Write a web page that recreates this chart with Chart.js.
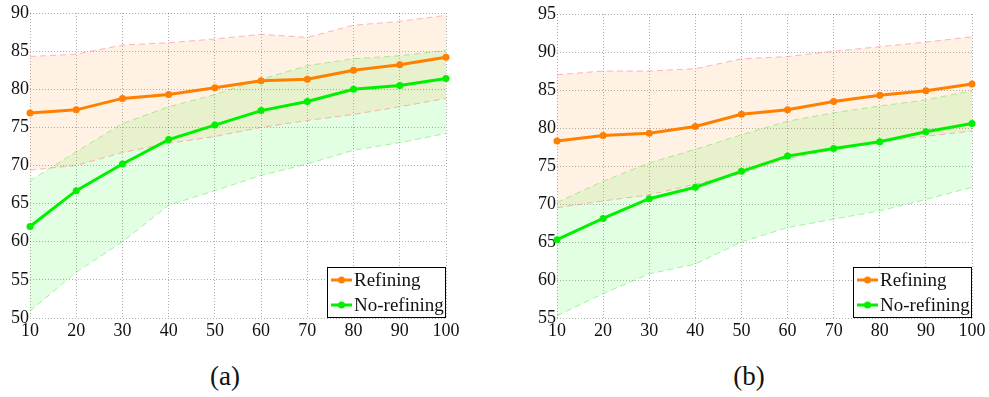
<!DOCTYPE html>
<html>
<head>
<meta charset="utf-8">
<script src="https://cdn.jsdelivr.net/npm/chart.js@4"></script>
<style>
  body { margin: 0; background: #fff; width: 989px; height: 397px; position: relative; overflow: hidden; }
  .panel { position: absolute; top: 0; height: 345px; }
  .caption { position: absolute; top: 361px; width: 80px; text-align: center;
             font-family: 'Liberation Serif', serif; font-size: 27px; color: #111; }
</style>
</head>
<body>
<div class="panel" style="left:0;width:470px"><canvas id="chartA"></canvas></div>
<div class="panel" style="left:527px;width:462px"><canvas id="chartB"></canvas></div>
<div class="caption" style="left:185px">(a)</div>
<div class="caption" style="left:709px">(b)</div>
<script>
// x categories
const xLabels = ['10', '20', '30', '40', '50', '60', '70', '80', '90', '100'];

// (a) values
const refA     = [76.9, 77.3, 78.8, 79.3, 80.2, 81.1, 81.3, 82.5, 83.2, 84.2];
const noRefA   = [62.0, 66.7, 70.2, 73.4, 75.3, 77.2, 78.4, 80.0, 80.5, 81.4];
const refUpA   = [84.3, 84.6, 85.8, 86.1, 86.6, 87.2, 86.8, 88.4, 88.9, 89.7];
const refLoA   = [69.4, 70.0, 71.7, 72.9, 73.8, 75.0, 75.9, 76.7, 77.7, 78.8];
const noRefUpA = [68.0, 71.8, 75.5, 77.7, 79.3, 81.3, 83.1, 84.0, 84.4, 85.1];
const noRefLoA = [50.9, 56.0, 60.0, 64.8, 66.7, 68.7, 70.2, 72.0, 73.0, 74.2];

// (b) values
const refB     = [78.3, 79.0, 79.3, 80.2, 81.8, 82.4, 83.5, 84.3, 84.9, 85.8];
const noRefB   = [65.3, 68.1, 70.7, 72.2, 74.3, 76.3, 77.3, 78.2, 79.5, 80.6];
const refUpB   = [87.0, 87.5, 87.5, 87.8, 89.1, 89.4, 90.1, 90.7, 91.3, 92.0];
const refLoB   = [69.5, 70.4, 71.2, 72.6, 74.0, 76.0, 77.1, 78.2, 78.9, 79.6];
const noRefUpB = [70.2, 73.0, 75.4, 77.2, 79.1, 80.9, 82.0, 82.9, 83.7, 84.9];
const noRefLoB = [55.3, 58.2, 60.8, 62.1, 65.0, 66.9, 68.0, 69.1, 70.6, 72.2];

const seriesNames = ['Refining', 'No-refining'];

const colors = {
    ref: '#ff8000',
    noRef: '#00f000',
    refEdge: 'rgba(255, 120, 140, 0.55)',
    noRefEdge: 'rgba(60, 230, 60, 0.45)',
    refFill: 'rgba(255, 128, 0, 0.11)',
    noRefFill: 'rgba(0, 255, 0, 0.11)',
    grid: 'rgba(0, 0, 0, 0.32)'
};
const serif = "'Liberation Serif', 'Times New Roman', serif";

// legend box drawn inside the plot, bottom right
const boxLegend = {
    id: 'boxLegend',
    afterDraw(chart) {
        const ctx = chart.ctx;
        const area = chart.chartArea;
        const w = 119, h = 51;
        const x0 = area.right - w, y0 = area.bottom - h;
        ctx.save();
        ctx.fillStyle = '#fff';
        ctx.fillRect(x0, y0, w, h);
        ctx.strokeStyle = '#000';
        ctx.lineWidth = 1;
        ctx.strokeRect(x0 + 0.5, y0 + 0.5, w - 1, h - 1);
        ctx.font = '19px ' + serif;
        ctx.textBaseline = 'middle';
        [0, 1].forEach(function(i) {
            const ds = chart.data.datasets[i];
            const cy = y0 + 13 + i * 25;
            ctx.strokeStyle = ds.borderColor;
            ctx.lineWidth = 3;
            ctx.beginPath();
            ctx.moveTo(x0 + 4, cy);
            ctx.lineTo(x0 + 25, cy);
            ctx.stroke();
            ctx.fillStyle = ds.borderColor;
            ctx.beginPath();
            ctx.arc(x0 + 14.5, cy, 3.5, 0, Math.PI * 2);
            ctx.fill();
            ctx.fillStyle = '#111';
            ctx.fillText(ds.label, x0 + 27, cy + 1);
        });
        ctx.restore();
    }
};

function bandEdge(data, color, fill, fillColor) {
    return {
        data: data,
        borderColor: color,
        borderWidth: 1,
        borderDash: [6, 4],
        pointRadius: 0,
        fill: fill,
        backgroundColor: fillColor || 'transparent',
        tension: 0
    };
}

function createPanel(canvasId, ref, noRef, refUp, refLo, noRefUp, noRefLo, yMin, yMax, topPad, rightPad) {
    const ctx = document.getElementById(canvasId);
    if (!ctx) return null;

    return new Chart(ctx, {
        type: 'line',
        data: {
            labels: xLabels,
            datasets: [
                {
                    label: seriesNames[0],
                    data: ref,
                    borderColor: colors.ref,
                    backgroundColor: colors.ref,
                    borderWidth: 3,
                    pointRadius: 3.5,
                    pointBorderWidth: 0,
                    fill: false
                },
                {
                    label: seriesNames[1],
                    data: noRef,
                    borderColor: colors.noRef,
                    backgroundColor: colors.noRef,
                    borderWidth: 3,
                    pointRadius: 3.5,
                    pointBorderWidth: 0,
                    fill: false
                },
                bandEdge(refUp, colors.refEdge, '+1', colors.refFill),
                bandEdge(refLo, colors.refEdge, false),
                bandEdge(noRefUp, colors.noRefEdge, '+1', colors.noRefFill),
                bandEdge(noRefLo, colors.noRefEdge, false)
            ]
        },
        options: {
            responsive: true,
            maintainAspectRatio: false,
            animation: false,
            layout: { padding: { top: topPad, left: 0, right: rightPad, bottom: 0 } },
            plugins: {
                legend: { display: false },
                tooltip: { enabled: false }
            },
            scales: {
                x: {
                    offset: false,
                    grid: { color: colors.grid, drawTicks: false },
                    border: { display: false, dash: [1, 2] },
                    ticks: {
                        color: '#111',
                        font: { family: serif, size: 18 },
                        padding: 2,
                        maxRotation: 0,
                        autoSkip: false
                    },
                    afterFit(scale) {
                        scale.height = 27;
                        scale.paddingLeft = 0;
                        scale.paddingRight = 0;
                    }
                },
                y: {
                    min: yMin,
                    max: yMax,
                    grid: { color: colors.grid, drawTicks: false },
                    border: { display: false, dash: [1, 2] },
                    ticks: {
                        stepSize: 5,
                        color: '#111',
                        font: { family: serif, size: 18 },
                        padding: 1
                    },
                    afterFit(scale) {
                        scale.width = 30;
                        scale.paddingTop = 0;
                        scale.paddingBottom = 0;
                    }
                }
            }
        },
        plugins: [boxLegend]
    });
}

// wait for the serif face so canvas text does not fall back
Promise.all([
    document.fonts.load("18px 'Liberation Serif'"),
    document.fonts.load("19px 'Liberation Serif'")
]).catch(function() {}).then(function() {
    createPanel('chartA', refA, noRefA, refUpA, refLoA, noRefUpA, noRefLoA, 50, 90, 13, 24);
    createPanel('chartB', refB, noRefB, refUpB, refLoB, noRefUpB, noRefLoB, 55, 95, 14, 17);
});
</script>
</body>
</html>
